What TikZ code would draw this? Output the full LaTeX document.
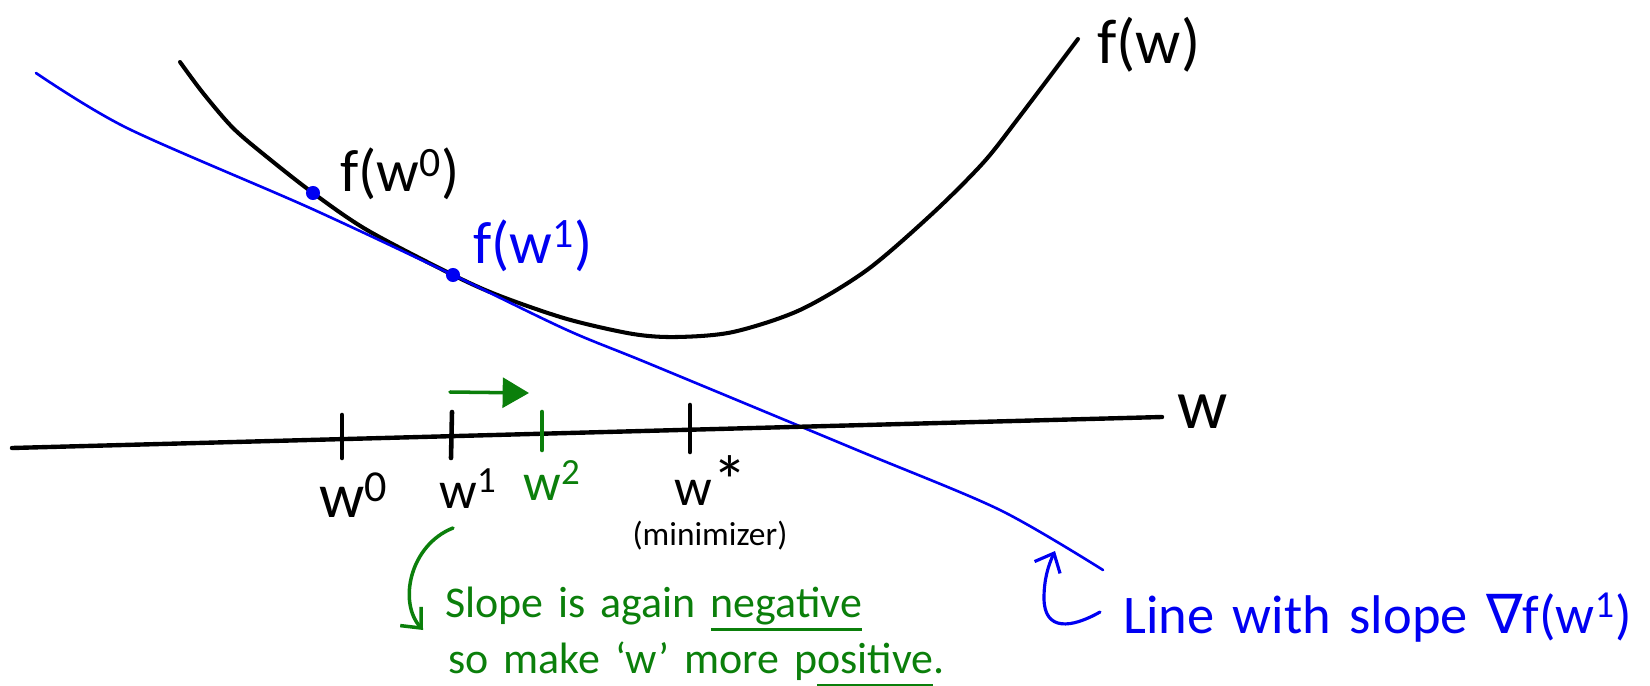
\documentclass[tikz,border=0pt]{standalone}
\usepackage{fontspec}
\setmainfont[WordSpace=1.5]{Carlito}
\newfontfamily\symbolfont{DejaVu Sans}
\usepackage{tikz}
\usetikzlibrary{arrows.meta, positioning, calc}
\definecolor{inkblue}{HTML}{0000F2}
\definecolor{inkgreen}{HTML}{0B7F0B}
\newcommand{\penfont}[1]{\fontsize{#1}{#1}\selectfont}
\newcommand{\penunder}[1]{\setbox0=\hbox{#1}\rlap{\raisebox{-0.32em}{\rule{\wd0}{1.8pt}}}\box0}

\begin{document}
\begin{tikzpicture}[
    x=0.02cm, y=-0.02cm,
    pen/.style={line width=2.3pt, line cap=round, line join=round},
    greenpen/.style={pen, draw=inkgreen, line width=2pt},
    bluepen/.style={pen, draw=inkblue, line width=1.8pt},
    tangent/.style={draw=inkblue, line width=1.5pt, line cap=round},
    tick/.style={line width=2.6pt, line cap=round},
    dot/.style={circle, fill=inkblue, inner sep=0pt, minimum size=8pt},
    lab/.style={font=\penfont{#1}, inner sep=0pt}, lab/.default=30pt
  ]
  \useasboundingbox (0,0) rectangle (1650,686);

  % function and tangent at w^1
  \draw[pen] plot[smooth] coordinates {(180,62) (203,93) (233,128) (267,157) (313,193) (367,230) (453,275) (500,296) (567,319) (633,334) (677,337) (733,332) (800,310) (867,270) (933,213) (983,163) (1017,120) (1078,39)};
  \draw[tangent] plot[smooth, tension=0.5] coordinates {(36,73) (127,128) (310,208) (453,275) (567,330) (650,364) (857,450) (1000,510) (1103,570)};
  \node[dot] (fw0) at (313,193) {};
  \node[dot] (fw1) at (453,275) {};
  \node[lab=34pt, anchor=base west] (fw0lab) at (340,192) {f(w\textsuperscript{0})};
  \node[lab=34pt, anchor=base west, text=inkblue] (fw1lab) at (473,263) {f(w\textsuperscript{1})};
  \node[lab=36pt, anchor=base west] (fwlab) at (1097,64) {f(w)};

  % axis
  \coordinate (axleft) at (12,448);
  \coordinate (axright) at (1162,417);
  \draw[pen, line width=2.5pt] (axleft) -- (axright);
  \node[lab=40pt, anchor=base] (waxlab) at (1203,428) {w};
  \draw[tick] (342,415) -- (342,458);
  \draw[tick] (452,412) -- (451,458);
  \draw[tick, draw=inkgreen] (542,412) -- (542,450);
  \draw[tick] (690,405) -- (690,452);
  \node[lab=36pt, anchor=base] (w0lab) at (354,517) {w\textsuperscript{0}};
  \node[lab=30pt, anchor=base] (w1lab) at (468,508) {w\textsuperscript{1}};
  \node[lab=30pt, anchor=base, text=inkgreen] (w2lab) at (552,500) {w\textsuperscript{2}};
  \node[lab=30pt, anchor=base] (wstarlab) at (711,505) {w{\penfont{40pt}*}};
  \node[lab=19pt, anchor=base] (minlab) at (710,545) {(minimizer)};

  % step to w^2
  \coordinate (stepfrom) at (450,392);
  \coordinate (stepto) at (529,393);
  \draw[greenpen, -{Triangle[length=15pt,width=17pt]}] (stepfrom) -- (stepto);

  % notes
  \node[lab=25pt, anchor=base west, text=inkgreen] (note1) at (445,617) {Slope is again \penunder{negative}};
  \node[lab=25pt, anchor=base west, text=inkgreen] (note2) at (448,673) {so make `w' more p\penunder{ositive}.};
  \coordinate (bendfrom) at (453,528);
  \coordinate (bendto) at (423,630);
  \draw[greenpen, -{Straight Barb[length=9pt,width=16pt]}] (bendfrom) .. controls (410,545) and (398,602) .. (bendto);

  \node[lab=31pt, anchor=base west, text=inkblue] (slopenote) at (1123,633) {Line with slope {\symbolfont ∇}f(w\textsuperscript{1})};
  \coordinate (hookfrom) at (1100,612);
  \coordinate (hookto) at (1055,551);
  \draw[bluepen, -{Straight Barb[length=9pt,width=16pt]}] (hookfrom) .. controls (1072,628) and (1044,632) .. (1044,598) .. controls (1044,580) and (1048,566) .. (hookto);
\end{tikzpicture}
\end{document}
